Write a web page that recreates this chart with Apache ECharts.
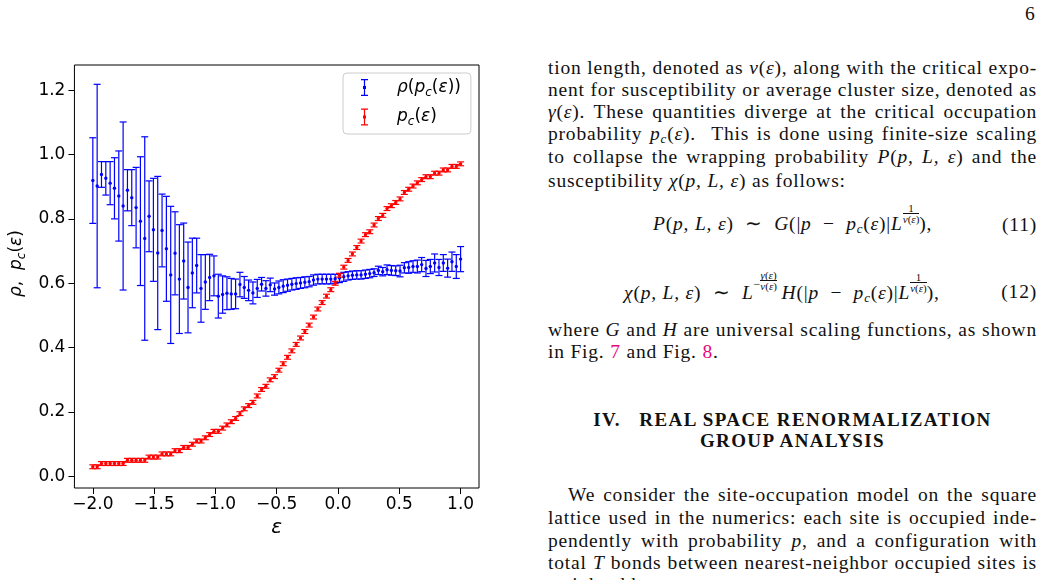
<!DOCTYPE html>
<html>
  <head>
    <meta charset="UTF-8" />
    <title>rho and pc vs epsilon</title>
    <script src="https://cdn.jsdelivr.net/npm/echarts@6.0.0/dist/echarts.min.js"></script>
    <style>
      body { margin: 0; width: 1044px; height: 580px; overflow: hidden; background: #fff; position: relative; }
      #chart { position: absolute; left: 0; top: 0; width: 530px; height: 580px; }
      .tx { position: absolute; font-family: "Liberation Serif", serif; font-size: 19.5px; letter-spacing: 0.8px; color: #111; line-height: 22px; }
      .ln { left: 548px; width: 489px; text-align: justify; text-align-last: justify; }
      .lf { left: 548px; width: 489px; text-align: left; }
      .ctr { left: 548px; width: 489px; text-align: center; font-weight: bold; font-size: 19px; letter-spacing: 1.4px; }
      .eq { left: 548px; width: 489px; height: 22px; white-space: nowrap; }
      .eq .no { position: absolute; right: 0; top: 0; }
      .eq .body { position: absolute; top: -11px; }
      .fr { display: inline-block; text-align: center; font-size: 11px; line-height: 10px; letter-spacing: 0; }
      .fr span { display: block; }
      .fr .den { border-top: 0.8px solid #111; }
      .f1 { vertical-align: 7px; }
      .f2 { vertical-align: 9px; }
      .mi { font-size: 12px; vertical-align: 11px; letter-spacing: 0; }
      .ref { color: #e4087e; }
      i { font-style: italic; }
      sub { font-size: 13px; vertical-align: -3px; line-height: 0; }
    </style>
  </head>
  <body>
    <div id="chart"></div>

    <div class="tx" style="left:1025px; top:3px;">6</div>

    <div class="tx ln" style="top:57px;">tion length, denoted as <i>ν</i>(<i>ε</i>), along with the critical expo-</div>
    <div class="tx ln" style="top:79px;">nent for susceptibility or average cluster size, denoted as</div>
    <div class="tx ln" style="top:101px;"><i>γ</i>(<i>ε</i>). These quantities diverge at the critical occupation</div>
    <div class="tx ln" style="top:123px;">probability <i>p<sub>c</sub></i>(<i>ε</i>). &nbsp;This is done using finite-size scaling</div>
    <div class="tx ln" style="top:146px;">to collapse the wrapping probability <i>P</i>(<i>p, L, ε</i>) and the</div>
    <div class="tx lf" style="top:170px;">susceptibility <i>χ</i>(<i>p, L, ε</i>) as follows:</div>

    <div class="tx eq" style="top:214px;">
      <span class="body" style="left:105px;"><i>P</i>(<i>p, L, ε</i>) &nbsp;∼ &nbsp;<i>G</i>(|<i>p</i> &nbsp;− &nbsp;<i>p<sub>c</sub></i>(<i>ε</i>)|<i>L</i><span class="fr f1"><span>1</span><span class="den"><i>ν</i>(<i>ε</i>)</span></span>),</span>
      <span class="no">(11)</span>
    </div>

    <div class="tx eq" style="top:281px;">
      <span class="body" style="left:76px;"><i>χ</i>(<i>p, L, ε</i>) &nbsp;∼ &nbsp;<i>L</i><span class="mi">−</span><span class="fr f2"><span><i>γ</i>(<i>ε</i>)</span><span class="den"><i>ν</i>(<i>ε</i>)</span></span>&thinsp;<i>H</i>(|<i>p</i> &nbsp;− &nbsp;<i>p<sub>c</sub></i>(<i>ε</i>)|<i>L</i><span class="fr f1"><span>1</span><span class="den"><i>ν</i>(<i>ε</i>)</span></span>),</span>
      <span class="no">(12)</span>
    </div>

    <div class="tx ln" style="top:319px;">where <i>G</i> and <i>H</i> are universal scaling functions, as shown</div>
    <div class="tx lf" style="top:341px;">in Fig. <span class="ref">7</span> and Fig. <span class="ref">8</span>.</div>

    <div class="tx ctr" style="top:409px;">IV. &nbsp;&nbsp;REAL SPACE RENORMALIZATION</div>
    <div class="tx ctr" style="top:430px;">GROUP ANALYSIS</div>

    <div class="tx ln" style="top:484px; left:568px; width:469px;">We consider the site-occupation model on the square</div>
    <div class="tx ln" style="top:507px;">lattice used in the numerics: each site is occupied inde-</div>
    <div class="tx ln" style="top:530px;">pendently with probability <i>p</i>, and a configuration with</div>
    <div class="tx ln" style="top:552px;">total <i>T</i> bonds between nearest-neighbor occupied sites is</div>
    <div class="tx lf" style="top:574px;">weighted by</div>
  </body>
  <script>
    // epsilon values of the measured points
    const eps = [
      -2.0000, -1.9647, -1.9294, -1.8941, -1.8588, -1.8235, -1.7882, -1.7529, -1.7176, -1.6824,
      -1.6471, -1.6118, -1.5765, -1.5412, -1.5059, -1.4706, -1.4353, -1.4000, -1.3647, -1.3294,
      -1.2941, -1.2588, -1.2235, -1.1882, -1.1529, -1.1176, -1.0824, -1.0471, -1.0118, -0.9765,
      -0.9412, -0.9059, -0.8706, -0.8353, -0.8000, -0.7647, -0.7294, -0.6941, -0.6588, -0.6235,
      -0.5882, -0.5529, -0.5176, -0.4824, -0.4471, -0.4118, -0.3765, -0.3412, -0.3059, -0.2706,
      -0.2353, -0.2000, -0.1647, -0.1294, -0.0941, -0.0588, -0.0235, 0.0118, 0.0471, 0.0824,
      0.1176, 0.1529, 0.1882, 0.2235, 0.2588, 0.2941, 0.3294, 0.3647, 0.4000, 0.4353,
      0.4706, 0.5059, 0.5412, 0.5765, 0.6118, 0.6471, 0.6824, 0.7176, 0.7529, 0.7882,
      0.8235, 0.8588, 0.8941, 0.9294, 0.9647, 1.0000
    ];

    // rho(pc(eps)) and its error
    const rho = [
      0.919, 0.902, 0.938, 0.926, 0.911, 0.895, 0.871, 0.840, 0.889, 0.866,
      0.835, 0.793, 0.739, 0.808, 0.766, 0.694, 0.764, 0.707, 0.626, 0.693,
      0.613, 0.669, 0.587, 0.632, 0.655, 0.584, 0.604, 0.618, 0.623, 0.560,
      0.565, 0.569, 0.567, 0.567, 0.596, 0.587, 0.578, 0.570, 0.584, 0.597,
      0.584, 0.595, 0.582, 0.587, 0.591, 0.594, 0.597, 0.599, 0.601, 0.603,
      0.605, 0.610, 0.613, 0.613, 0.613, 0.613, 0.614, 0.616, 0.620, 0.623,
      0.625, 0.626, 0.626, 0.628, 0.630, 0.633, 0.640, 0.636, 0.642, 0.640,
      0.639, 0.638, 0.648, 0.649, 0.652, 0.652, 0.658, 0.646, 0.652, 0.663,
      0.649, 0.663, 0.647, 0.667, 0.652, 0.675
    ];
    const rhoErr = [
      0.133, 0.316, 0.040, 0.052, 0.067, 0.095, 0.140, 0.261, 0.064, 0.087,
      0.125, 0.200, 0.316, 0.110, 0.160, 0.238, 0.113, 0.163, 0.213, 0.129,
      0.169, 0.118, 0.141, 0.108, 0.085, 0.105, 0.085, 0.072, 0.062, 0.068,
      0.058, 0.051, 0.048, 0.046, 0.038, 0.034, 0.032, 0.034, 0.028, 0.021,
      0.024, 0.021, 0.019, 0.020, 0.020, 0.019, 0.018, 0.018, 0.017, 0.017,
      0.016, 0.016, 0.015, 0.015, 0.015, 0.015, 0.014, 0.014, 0.014, 0.013,
      0.013, 0.013, 0.013, 0.013, 0.013, 0.012, 0.013, 0.013, 0.015, 0.015,
      0.015, 0.018, 0.016, 0.018, 0.018, 0.020, 0.022, 0.025, 0.022, 0.028,
      0.025, 0.026, 0.028, 0.030, 0.037, 0.039
    ];

    // pc(eps) and its error
    const pc = [
      0.030, 0.030, 0.040, 0.040, 0.040, 0.040, 0.040, 0.040, 0.050, 0.050,
      0.050, 0.050, 0.050, 0.060, 0.060, 0.060, 0.070, 0.070, 0.070, 0.080,
      0.080, 0.090, 0.090, 0.100, 0.110, 0.110, 0.120, 0.130, 0.140, 0.140,
      0.150, 0.160, 0.170, 0.180, 0.195, 0.210, 0.220, 0.230, 0.250, 0.270,
      0.280, 0.300, 0.310, 0.330, 0.350, 0.370, 0.390, 0.410, 0.430, 0.450,
      0.470, 0.495, 0.520, 0.540, 0.560, 0.580, 0.600, 0.625, 0.650, 0.671,
      0.691, 0.711, 0.731, 0.751, 0.760, 0.781, 0.801, 0.811, 0.832, 0.841,
      0.851, 0.862, 0.882, 0.892, 0.902, 0.912, 0.922, 0.931, 0.931, 0.942,
      0.942, 0.952, 0.952, 0.963, 0.963, 0.971
    ];
    const pcErr = [
      0.006, 0.006, 0.006, 0.006, 0.006, 0.006, 0.006, 0.006, 0.006, 0.006,
      0.006, 0.006, 0.006, 0.006, 0.006, 0.006, 0.006, 0.006, 0.006, 0.006,
      0.006, 0.006, 0.006, 0.006, 0.006, 0.006, 0.006, 0.006, 0.006, 0.006,
      0.006, 0.006, 0.006, 0.006, 0.006, 0.006, 0.006, 0.006, 0.006, 0.006,
      0.006, 0.006, 0.006, 0.006, 0.006, 0.006, 0.006, 0.006, 0.006, 0.006,
      0.006, 0.006, 0.006, 0.006, 0.006, 0.006, 0.006, 0.006, 0.006, 0.006,
      0.006, 0.006, 0.006, 0.006, 0.006, 0.006, 0.006, 0.006, 0.006, 0.006,
      0.006, 0.006, 0.006, 0.006, 0.006, 0.006, 0.006, 0.006, 0.006, 0.006,
      0.006, 0.006, 0.006, 0.006, 0.006, 0.006
    ];

    const xTicks = [-2.0, -1.5, -1.0, -0.5, 0.0, 0.5, 1.0];
    const yTicks = [0.0, 0.2, 0.4, 0.6, 0.8, 1.0, 1.2];

    const font = "DejaVu Sans";
    const rich = {
      i: { fontFamily: font, fontStyle: "italic", fontSize: 17, lineHeight: 22, color: "#000" },
      r: { fontFamily: font, fontSize: 17, lineHeight: 22, color: "#000" },
      s: { fontFamily: font, fontStyle: "italic", fontSize: 12, lineHeight: 13, verticalAlign: "bottom", color: "#000" }
    };
    const labels = {
      rho: "{i|ρ}{r|(}{i|p}{s|c}{r|(}{i|ε}{r|))}",
      pc: "{i|p}{s|c}{r|(}{i|ε}{r|)}"
    };

    // error bar glyph for the legend
    const barIcon = "path://M0 0h7v1.2h-7z M2.9 0h1.2v17h-1.2z M0 15.8h7v1.2h-7z M2 7h3v3h-3z";

    function errorBar(params, api) {
      const x = api.value(0), y = api.value(1), e = api.value(2);
      const top = api.coord([x, y + e]);
      const bot = api.coord([x, y - e]);
      const mid = api.coord([x, y]);
      const c = api.visual("color");
      const hw = 3.5;
      const st = { stroke: c, lineWidth: 1.2 };
      return {
        type: "group",
        children: [
          { type: "line", shape: { x1: top[0], y1: top[1], x2: bot[0], y2: bot[1] }, style: st },
          { type: "line", shape: { x1: top[0] - hw, y1: top[1], x2: top[0] + hw, y2: top[1] }, style: st },
          { type: "line", shape: { x1: bot[0] - hw, y1: bot[1], x2: bot[0] + hw, y2: bot[1] }, style: st },
          { type: "circle", shape: { cx: mid[0], cy: mid[1], r: 1.7 }, style: { fill: c } }
        ]
      };
    }

    let myChart = echarts.init(document.getElementById("chart"));

    myChart.setOption({
      animation: false,
      grid: { left: 69, top: 65, width: 410, height: 423, show: true, borderColor: "#000", borderWidth: 1 },
      legend: {
        orient: "vertical",
        left: 343,
        top: 73,
        padding: [6, 10, 6, 18],
        itemGap: 10,
        itemWidth: 7,
        itemHeight: 17,
        borderColor: "#cccccc",
        borderWidth: 1,
        borderRadius: 4,
        backgroundColor: "rgba(255,255,255,0.8)",
        data: [
          { name: "rho", icon: barIcon },
          { name: "pc", icon: barIcon }
        ],
        formatter: (name) => labels[name],
        textStyle: { rich: rich, padding: [0, 0, 0, 24] }
      },
      xAxis: {
        type: "value",
        min: -2.15,
        max: 1.15,
        splitLine: { show: false },
        axisLine: { show: false, onZero: false },
        axisTick: { show: true, length: 6, lineStyle: { color: "#000" }, customValues: xTicks },
        axisLabel: {
          customValues: xTicks,
          margin: 8,
          fontFamily: font,
          fontSize: 17,
          color: "#000",
          formatter: (v) => (v < 0 ? "\u2212" : "") + Math.abs(v).toFixed(1)
        },
        name: "{i|ε}",
        nameLocation: "middle",
        nameGap: 22,
        nameTextStyle: { rich: { i: { fontFamily: font, fontStyle: "italic", fontSize: 20, color: "#000" } } }
      },
      yAxis: {
        type: "value",
        min: -0.036,
        max: 1.278,
        splitLine: { show: false },
        axisLine: { show: false, onZero: false },
        axisTick: { show: true, length: 6, lineStyle: { color: "#000" }, customValues: yTicks },
        axisLabel: {
          customValues: yTicks,
          margin: 9,
          fontFamily: font,
          fontSize: 17,
          color: "#000",
          formatter: (v) => v.toFixed(1)
        },
        name: "{i|ρ}{r|,  }{i|p}{s|c}{r|(}{i|ε}{r|)}",
        nameLocation: "middle",
        nameRotate: 90,
        nameGap: 40,
        nameTextStyle: { rich: rich, padding: [0, 0, 0, 26] }
      },
      series: [
        {
          name: "rho",
          type: "custom",
          renderItem: errorBar,
          itemStyle: { color: "#0000ff" },
          encode: { x: 0, y: 1 },
          data: eps.map((x, i) => [x, rho[i], rhoErr[i]])
        },
        {
          name: "pc",
          type: "custom",
          renderItem: errorBar,
          itemStyle: { color: "#ff0000" },
          encode: { x: 0, y: 1 },
          data: eps.map((x, i) => [x, pc[i], pcErr[i]])
        }
      ]
    });
  </script>
</html>
